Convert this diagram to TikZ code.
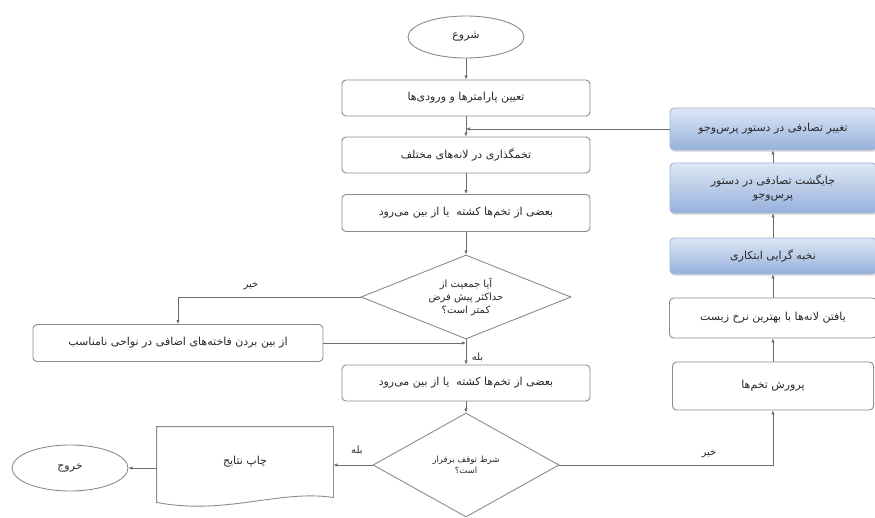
\documentclass[tikz,border=0pt]{standalone}
\usepackage{fontspec}
\usetikzlibrary{shapes.geometric,arrows.meta,calc,shadows}
\newfontfamily\fafont[Script=Arabic]{DejaVu Sans}
\TeXXeTstate=1
\newcommand{\rl}[1]{\beginR #1\endR}
\definecolor{boxBorder}{RGB}{140,140,140}
\definecolor{lineGray}{RGB}{110,110,110}
\definecolor{textGray}{RGB}{40,40,40}
\definecolor{blueTop}{RGB}{222,231,245}
\definecolor{blueBottom}{RGB}{150,177,220}
\definecolor{blueBorder}{RGB}{160,180,215}
\tikzset{
    every picture/.style={
        line width=0.9pt
    },
    % Style for the plain process boxes
    process box/.style={
        draw=boxBorder, rounded corners=4pt, fill=white,
        font=\fafont\fontsize{11}{14}\selectfont, text=textGray, align=center,
        minimum width=248pt, minimum height=36pt
    },
    % Style for the shaded boxes on the right
    shaded box/.style={
        process box, draw=blueBorder, top color=blueTop, bottom color=blueBottom,
        drop shadow={opacity=0.25, shadow xshift=1pt, shadow yshift=-2pt},
        minimum width=206pt
    },
    terminal/.style={
        ellipse, draw=boxBorder, fill=white, font=\fafont\fontsize{11}{13}\selectfont, text=textGray,
        minimum width=116pt, minimum height=42pt
    },
    decision/.style={
        diamond, draw=boxBorder, fill=white, text=textGray,
        align=center, inner sep=0pt, aspect=2.5
    },
    flow/.style={
        draw=lineGray, -{Latex[length=4pt,width=3.5pt,fill=black]}
    },
    branch label/.style={
        font=\fafont\fontsize{10}{12}\selectfont, text=textGray
    }
}

\begin{document}
\begin{tikzpicture}[x=1pt,y=-1pt]

% Set the canvas size
\path[use as bounding box] (0,0) rectangle (875,518);

% Main column
\node[terminal] (start) at (466,37) {\rl{شروع}};
\node[process box] (params) at (466,98) {\rl{تعیین پارامترها و ورودی‌ها}};
\node[process box] (lay) at (466,155) {\rl{تخمگذاری در لانه‌های مختلف}};
\node[process box, minimum height=37pt] (kill1) at (466,213) {\rl{بعضی از تخم‌ها کشته\ \ یا از بین می‌رود}};
\node[decision, minimum width=210pt, minimum height=84pt, font=\fafont\fontsize{10}{13}\selectfont] (check) at (466,297)
    {\rl{آیا جمعیت از}\\\rl{حداکثر پیش فرض}\\\rl{کمتر است؟}};
\node[process box] (kill2) at (466,383) {\rl{بعضی از تخم‌ها کشته\ \ یا از بین می‌رود}};
\node[decision, minimum width=186pt, minimum height=104pt, font=\fafont\fontsize{8.5}{11}\selectfont] (stop) at (466,465)
    {\rl{شرط توقف برقرار}\\\rl{است؟}};

% Left side
\node[process box, minimum width=290pt, minimum height=37pt] (remove) at (178,343)
    {\rl{از بین بردن فاخته‌های اضافی در نواحی نامناسب}};
\node[minimum width=176pt, minimum height=70pt] (print) at (245,462) {};
\draw[boxBorder, fill=white] (print.north west) -- (print.north east) -- (print.south east)
    .. controls ($(print.south east)+(-55,-8)$) and ($(print.south west)+(70,18)$) .. ($(print.south west)+(0,5)$)
    -- cycle;
\node[font=\fafont\fontsize{11}{13}\selectfont, text=textGray] (printtext) at (print) {\rl{چاپ نتایج}};
\node[terminal, minimum height=46pt] (exit) at (70,468) {\rl{خروج}};

% Right column
\node[process box, minimum width=201pt, minimum height=48pt] (hatch) at (773,386) {\rl{پرورش تخم‌ها}};
\node[process box, minimum width=207pt, minimum height=40pt] (find) at (773,318) {\rl{یافتن لانه‌ها با بهترین نرخ زیست}};
\node[shaded box] (elite) at (773,256) {\rl{نخبه گرایی ابتکاری}};
\node[shaded box, minimum height=50pt] (permute) at (773,188) {\rl{جایگشت تصادفی در دستور}\\\rl{پرس‌وجو}};
\node[shaded box, minimum height=42pt] (mutate) at (773,129) {\rl{تغییر تصادفی در دستور پرس‌وجو}};

% Junctions on the main line
\coordinate (j1) at (params.south |- mutate.west);
\coordinate (j2) at (check.south |- remove.east);

% Connectors
\draw[flow] (start) -- (params);
\draw[flow] (params) -- (lay);
\draw[flow] (mutate.west) -- (j1);
\draw[flow] (lay) -- (kill1);
\draw[flow] (kill1) -- (check);
\draw[flow] (check.west) -| (remove.north) node[branch label, pos=0.3, above=3pt] {\rl{خیر}};
\draw[flow] (remove.east) -- (j2);
\draw[flow] (check.south) -- (kill2) node[branch label, pos=0.72, right=2pt] {\rl{بله}};
\draw[flow] (kill2) -- (stop);
\draw[flow] (stop.west) -- (print.east |- stop.west) node[branch label, pos=0.4, above=6pt] {\rl{بله}};
\draw[flow] (print.west |- exit.east) -- (exit.east);
\draw[flow] (stop.east) -| (hatch.south) node[branch label, pos=0.35, above=3pt] {\rl{خیر}};
\draw[flow] (hatch) -- (find);
\draw[flow] (find) -- (elite);
\draw[flow] (elite) -- (permute);
\draw[flow] (permute) -- (mutate);

\end{tikzpicture}
\end{document}
